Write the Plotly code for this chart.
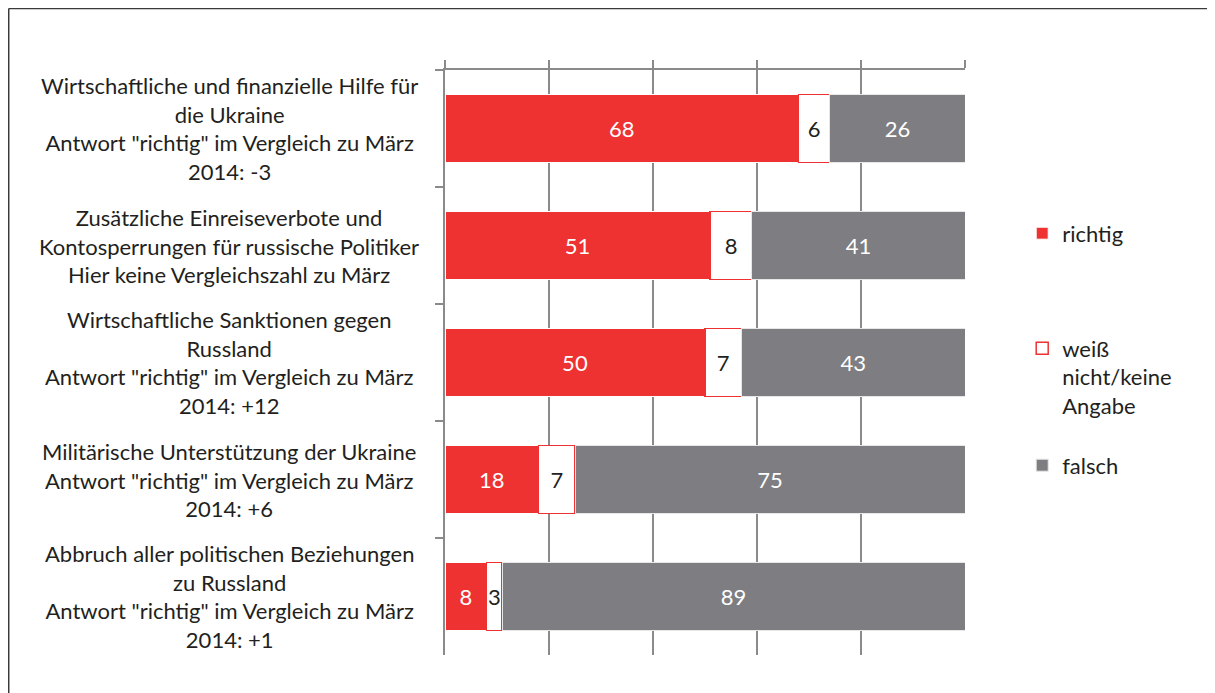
import plotly.graph_objects as go

# Kategorien (von oben nach unten)
kategorien = [
    'Wirtschaftliche und finanzielle Hilfe für<br>die Ukraine<br>Antwort "richtig" im Vergleich zu März<br>2014: -3',
    'Zusätzliche Einreiseverbote und<br>Kontosperrungen für russische Politiker<br>Hier keine Vergleichszahl zu März',
    'Wirtschaftliche Sanktionen gegen<br>Russland<br>Antwort "richtig" im Vergleich zu März<br>2014: +12',
    'Militärische Unterstützung der Ukraine<br>Antwort "richtig" im Vergleich zu März<br>2014: +6',
    'Abbruch aller politischen Beziehungen<br>zu Russland<br>Antwort "richtig" im Vergleich zu März<br>2014: +1',
]
richtig = [68, 51, 50, 18, 8]
weiss_nicht = [6, 8, 7, 7, 3]
falsch = [26, 41, 43, 75, 89]

ROT = '#EE3131'
GRAU = '#7D7D82'
FONT = 'Lato'
TEXTFARBE = '#231F20'

fig = go.Figure()

fig.add_trace(go.Bar(
    y=kategorien, x=richtig, orientation='h', name='richtig',
    legend='legend',
    marker=dict(color=ROT, line=dict(color='white', width=1)),
    text=richtig, textposition='inside', insidetextanchor='middle',
    constraintext='none', textangle=0,
    textfont=dict(color='white', size=22, family=FONT),
))
fig.add_trace(go.Bar(
    y=kategorien, x=weiss_nicht, orientation='h',
    name='weiß<br>nicht/keine<br>Angabe', legend='legend2',
    marker=dict(color='white', line=dict(color=ROT, width=1.5)),
    text=weiss_nicht, textposition='inside', insidetextanchor='middle',
    constraintext='none', textangle=0,
    textfont=dict(color=TEXTFARBE, size=22, family=FONT),
))
fig.add_trace(go.Bar(
    y=kategorien, x=falsch, orientation='h', name='falsch',
    legend='legend3',
    marker=dict(color=GRAU, line=dict(color='#e6e6e6', width=1)),
    text=falsch, textposition='inside', insidetextanchor='middle',
    constraintext='none', textangle=0,
    textfont=dict(color='white', size=22, family=FONT),
))

# Kategorie-Beschriftungen zentriert links
for k in kategorien:
    fig.add_annotation(
        x=-0.415, xref='paper', y=k, yref='y',
        text=k, showarrow=False, xanchor='center', align='center',
        font=dict(size=22, color=TEXTFARBE, family=FONT),
    )

# Rahmen links und oben
fig.add_shape(type='line', xref='paper', yref='paper',
              x0=-0.839, x1=-0.839, y0=-0.2, y1=1.105,
              line=dict(color='#3a3a3a', width=1.5))
fig.add_shape(type='line', xref='paper', yref='paper',
              x0=-0.839, x1=1.6, y0=1.105, y1=1.105,
              line=dict(color='#3a3a3a', width=1.5))

leg = dict(x=1.11, xanchor='left', yanchor='top', valign='top',
           font=dict(size=22, family=FONT), itemclick=False)

fig.update_layout(
    width=1215, height=693,
    barmode='stack', bargap=0.42,
    plot_bgcolor='white', paper_bgcolor='white',
    margin=dict(l=437, r=258, t=62, b=46),
    font=dict(family=FONT, color=TEXTFARBE, size=22),
    legend=dict(leg, y=0.7566),
    legend2=dict(leg, y=0.560),
    legend3=dict(leg, y=0.360),
    showlegend=True,
)

fig.update_xaxes(
    side='top', range=[0, 100], dtick=20,
    showticklabels=False, ticks='outside', ticklen=8,
    tickcolor='#8a8a8a', tickwidth=1.5,
    showline=True, linecolor='#8a8a8a', linewidth=1.5,
    showgrid=True, gridcolor='#8a8a8a', gridwidth=1.5,
    zeroline=False,
)
fig.update_yaxes(
    autorange='reversed', showticklabels=False,
    ticks='outside', ticklen=8, tickson='boundaries',
    tickcolor='#8a8a8a', tickwidth=1.5,
    showline=True, linecolor='#8a8a8a', linewidth=1.5,
    showgrid=False,
)

fig.write_html('out.html')
